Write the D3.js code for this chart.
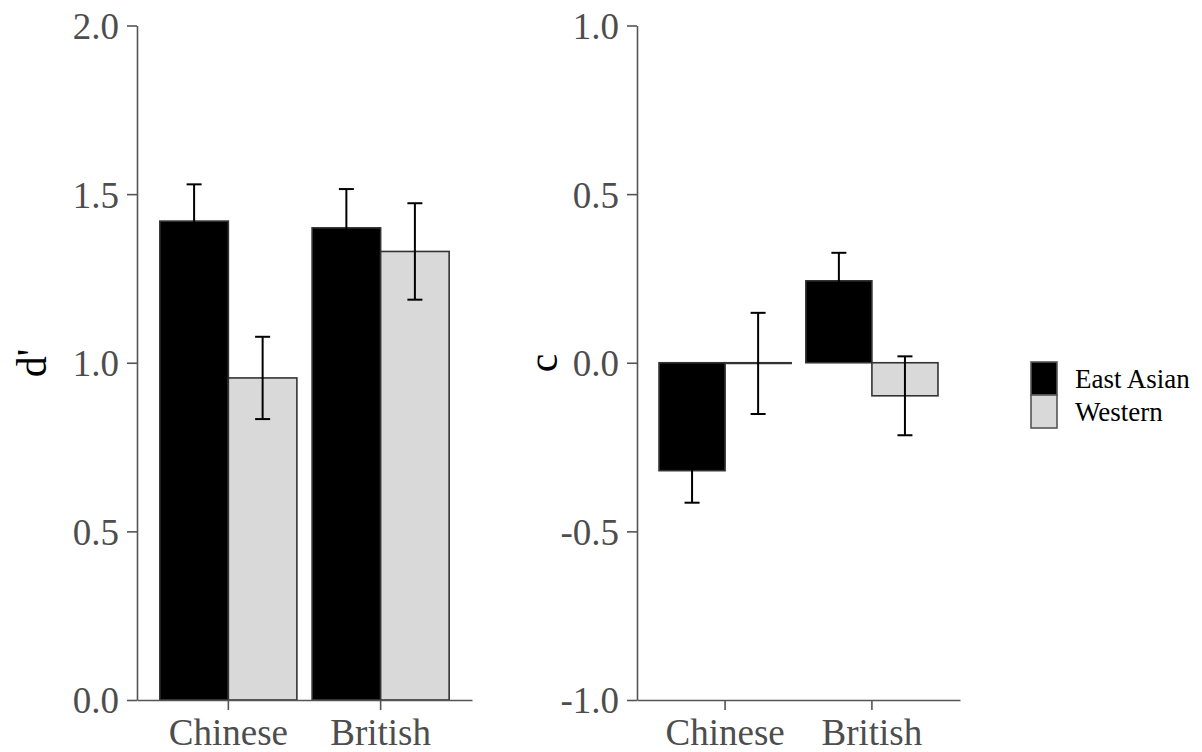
<!DOCTYPE html>
<html>
<head>
<meta charset="utf-8">
<script src="https://cdn.jsdelivr.net/npm/d3@7"></script>
<style>
    body { margin: 0; background: #fff; }
    svg text { font-family: "Liberation Serif", "Times New Roman", serif; }
    .axis path, .axis line { stroke: #555; stroke-width: 1.6px; }
    .axis text { fill: #4d4d4d; font-size: 37px; }
</style>
</head>
<body>
<div id="chart"></div>
<script>
    var groups = ["Chinese", "British"];
    var cultures = ["East Asian", "Western"];

    // d' means and standard errors, by group (Chinese, British)
    var dPrimeEastAsian = [1.42, 1.40];
    var dPrimeWestern = [0.955, 1.33];
    var dPrimeEastAsianSE = [0.109, 0.115];
    var dPrimeWesternSE = [0.122, 0.143];

    // criterion c
    var cEastAsian = [-0.32, 0.243];
    var cWestern = [-0.002, -0.098];
    var cEastAsianSE = [0.095, 0.083];
    var cWesternSE = [0.15, 0.117];

    var dPrimeTicks = [0, 0.5, 1.0, 1.5, 2.0];
    var cTicks = [-1.0, -0.5, 0.0, 0.5, 1.0];

    var fills = { "East Asian": "#000000", "Western": "#d9d9d9" };

    var svg = d3.select("#chart").append("svg")
        .attr("width", 1202)
        .attr("height", 752);

    // builds rows for one panel
    function makeRows(ea, we, eaSE, weSE) {
        var rows = [];
        for (var i = 0; i < groups.length; i++) {
            rows.push({ group: groups[i], culture: cultures[0], value: ea[i], se: eaSE[i] });
            rows.push({ group: groups[i], culture: cultures[1], value: we[i], se: weSE[i] });
        }
        return rows;
    }

    function drawPanel(opts) {
        var g = svg.append("g");

        var x = d3.scaleBand()
            .domain(groups)
            .range([opts.left, opts.right])
            .paddingInner(0.1)
            .paddingOuter(0.15);
        var xSub = d3.scaleBand()
            .domain(cultures)
            .range([0, x.bandwidth()]);
        var y = d3.scaleLinear()
            .domain(opts.domain)
            .range([700, 25.5]);

        // bars
        g.selectAll(".bar")
            .data(opts.rows)
            .enter()
            .append("rect")
            .attr("class", "bar")
            .attr("x", function (d) { return x(d.group) + xSub(d.culture); })
            .attr("width", xSub.bandwidth())
            .attr("y", function (d) { return Math.min(y(d.value), y(0)); })
            .attr("height", function (d) { return Math.abs(y(d.value) - y(0)); })
            .style("fill", function (d) { return fills[d.culture]; })
            .style("stroke", "#333")
            .style("stroke-width", 1.6);

        // error bars
        var capHalf = 7.5;
        var err = g.selectAll(".err")
            .data(opts.rows)
            .enter()
            .append("g")
            .attr("class", "err")
            .style("stroke", "#000")
            .style("stroke-width", 2);
        function cx(d) { return x(d.group) + xSub(d.culture) + xSub.bandwidth() / 2; }
        err.append("line")
            .attr("x1", cx).attr("x2", cx)
            .attr("y1", function (d) { return y(d.value - d.se); })
            .attr("y2", function (d) { return y(d.value + d.se); });
        err.append("line")
            .attr("x1", function (d) { return cx(d) - capHalf; })
            .attr("x2", function (d) { return cx(d) + capHalf; })
            .attr("y1", function (d) { return y(d.value + d.se); })
            .attr("y2", function (d) { return y(d.value + d.se); });
        err.append("line")
            .attr("x1", function (d) { return cx(d) - capHalf; })
            .attr("x2", function (d) { return cx(d) + capHalf; })
            .attr("y1", function (d) { return y(d.value - d.se); })
            .attr("y2", function (d) { return y(d.value - d.se); });

        // y-axis
        g.append("g")
            .attr("class", "axis")
            .attr("transform", "translate(" + opts.left + ",0)")
            .call(d3.axisLeft(y)
                .tickValues(opts.ticks)
                .tickFormat(function (d) { return d.toFixed(1); })
                .tickSizeInner(10)
                .tickSizeOuter(0)
                .tickPadding(8))
            .selectAll("text")
            .attr("dy", "0.35em");

        // x-axis
        g.append("g")
            .attr("class", "axis")
            .attr("transform", "translate(0,700)")
            .call(d3.axisBottom(x)
                .tickSizeInner(10)
                .tickSizeOuter(0)
                .tickPadding(9));

        g.append("text")
            .attr("transform", "translate(" + opts.labelX + ",363) rotate(-90)")
            .attr("dy", "0.35em")
            .style("text-anchor", "middle")
            .style("font-size", "42px")
            .style("fill", "#000")
            .text(opts.label);
    }

    drawPanel({
        left: 137, right: 472,
        domain: [0, 2],
        ticks: dPrimeTicks,
        rows: makeRows(dPrimeEastAsian, dPrimeWestern, dPrimeEastAsianSE, dPrimeWesternSE),
        label: "d'",
        labelX: 31
    });

    drawPanel({
        left: 637, right: 960,
        domain: [-1, 1],
        ticks: cTicks,
        rows: makeRows(cEastAsian, cWestern, cEastAsianSE, cWesternSE),
        label: "c",
        labelX: 542
    });

    // legend
    var legend = svg.append("g").attr("transform", "translate(1031,362)");
    var items = legend.selectAll(".item")
        .data(cultures)
        .enter()
        .append("g")
        .attr("transform", function (d, i) { return "translate(0," + (i * 33) + ")"; });
    items.append("rect")
        .attr("width", 26)
        .attr("height", 33)
        .style("fill", function (d) { return fills[d]; })
        .style("stroke", "#555")
        .style("stroke-width", 1.6);
    items.append("text")
        .attr("x", 44)
        .attr("y", 17)
        .attr("dy", "0.35em")
        .style("font-size", "27px")
        .style("fill", "#000")
        .text(function (d) { return d; });
</script>
</body>
</html>
